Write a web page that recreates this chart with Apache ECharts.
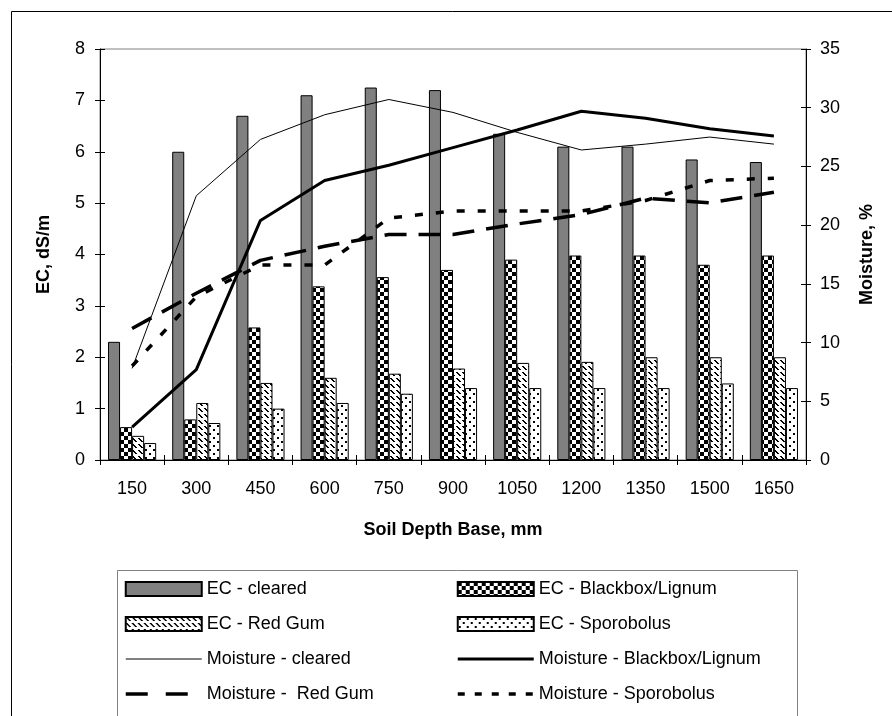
<!DOCTYPE html>
<html>
<head>
<meta charset="utf-8">
<script src="https://cdn.jsdelivr.net/npm/echarts@6/dist/echarts.min.js"></script>
<style>
html,body{margin:0;padding:0;background:#fff;}
#chart{width:892px;height:716px;}
</style>
</head>
<body>
<div id="chart"></div>
<script>
// ---- Data ----
var categories = ['150','300','450','600','750','900','1050','1200','1350','1500','1650'];
var ecCleared    = [2.3, 6.0, 6.7, 7.1, 7.25, 7.2, 6.35, 6.1, 6.1, 5.85, 5.8];
var ecBlackbox   = [0.64, 0.79, 2.58, 3.38, 3.56, 3.7, 3.9, 3.98, 3.98, 3.8, 3.98];
var ecRedGum     = [0.47, 1.11, 1.5, 1.6, 1.68, 1.78, 1.89, 1.91, 2.0, 2.0, 2.0];
var ecSporobolus = [0.33, 0.72, 1.0, 1.11, 1.29, 1.4, 1.4, 1.4, 1.4, 1.49, 1.4];
var moistCleared    = [7.8, 22.5, 27.3, 29.4, 30.7, 29.6, 27.9, 26.4, 26.9, 27.5, 26.9];
var moistBlackbox   = [2.8, 7.7, 20.4, 23.8, 25.1, 26.6, 28.1, 29.7, 29.1, 28.2, 27.6];
var moistRedGum     = [11.2, 14.2, 17.0, 18.2, 19.2, 19.2, 20.1, 20.9, 22.3, 21.9, 22.8];
var moistSporobolus = [8.0, 13.9, 16.6, 16.6, 20.6, 21.2, 21.2, 21.2, 22.1, 23.8, 24.0];
var ecTicks = {min: 0, max: 8, interval: 1};
var moistTicks = {min: 0, max: 35, interval: 5};

// ---- Patterns ----
function makeTile(w, h, draw) {
  var c = document.createElement('canvas');
  c.width = w; c.height = h;
  var ctx = c.getContext('2d');
  ctx.fillStyle = '#fff';
  ctx.fillRect(0, 0, w, h);
  ctx.fillStyle = '#000';
  draw(ctx);
  return {image: c, repeat: 'repeat'};
}
var checkerFill = makeTile(8, 8, function (ctx) {
  ctx.fillRect(0, 0, 4, 4);
  ctx.fillRect(4, 4, 4, 4);
});
var diagFill = makeTile(6, 6, function (ctx) {
  ctx.fillRect(0, 0, 2, 1);
  ctx.fillRect(1, 1, 2, 1);
  ctx.fillRect(2, 2, 2, 1);
  ctx.fillRect(3, 3, 2, 1);
});
var dotFill = makeTile(8, 8, function (ctx) {
  ctx.fillRect(1, 1, 2, 2);
  ctx.fillRect(5, 5, 2, 2);
});

var FONT = '"Liberation Sans", Arial, sans-serif';
var chart = echarts.init(document.getElementById('chart'), null, {renderer: 'canvas'});

var dashRedGum = [22, 12];
var dashSporobolus = [8, 13];

function barSeries(name, data, fill) {
  return {
    name: name, type: 'bar', data: data, xAxisIndex: 0, yAxisIndex: 0,
    barGap: '0%', barCategoryGap: '25%',
    itemStyle: {color: fill, borderColor: '#000', borderWidth: 1},
    emphasis: {disabled: true}, z: 2
  };
}
function lineSeries(name, data, width, dash) {
  return {
    name: name, type: 'line', data: data, xAxisIndex: 0, yAxisIndex: 1,
    symbol: 'none', showSymbol: false,
    lineStyle: {color: '#000', width: width, type: dash, cap: 'butt'},
    itemStyle: {color: '#000'},
    emphasis: {disabled: true}, z: 5
  };
}
var noSym = {color: 'rgba(0,0,0,0)', borderColor: 'rgba(0,0,0,0)', borderWidth: 0, opacity: 0};
function lineLegend(name, width, dash) {
  return {name: name, itemStyle: noSym, lineStyle: {width: width, type: dash, color: '#000', cap: 'butt'}};
}
var legendCommon = {
  orient: 'vertical', top: 579, itemWidth: 76, itemHeight: 14, itemGap: 15, padding: 0,
  selectedMode: false,
  textStyle: {fontSize: 18, color: '#000', fontFamily: FONT, lineHeight: 20}
};

var option = {
  animation: false,
  backgroundColor: '#fff',
  textStyle: {fontFamily: FONT, color: '#000'},
  grid: {left: 100, right: 86, top: 49, bottom: 256, show: true, borderColor: '#808080', borderWidth: 1},
  xAxis: [{
    type: 'category', data: categories, position: 'bottom',
    axisLine: {lineStyle: {color: '#000', width: 1}},
    axisTick: {show: true, inside: true, length: 5, lineStyle: {color: '#000'}},
    axisLabel: {fontSize: 18, color: '#000', margin: 20, fontFamily: FONT},
    splitLine: {show: false},
    name: 'Soil Depth Base, mm', nameLocation: 'middle', nameGap: 61,
    nameTextStyle: {fontSize: 18, fontWeight: 'bold', color: '#000', fontFamily: FONT}
  }, {
    type: 'category', data: categories, position: 'bottom',
    axisLine: {show: false},
    axisTick: {show: true, inside: false, length: 5, lineStyle: {color: '#000'}},
    axisLabel: {show: false}, splitLine: {show: false}
  }],
  yAxis: [{
    type: 'value', position: 'left', min: ecTicks.min, max: ecTicks.max, interval: ecTicks.interval,
    axisLine: {show: true, lineStyle: {color: '#000'}},
    axisTick: {show: true, inside: false, length: 5, lineStyle: {color: '#000'}},
    axisLabel: {fontSize: 18, color: '#000', margin: 15, fontFamily: FONT},
    splitLine: {show: false},
    name: 'EC, dS/m', nameLocation: 'middle', nameGap: 47, nameRotate: 90,
    nameTextStyle: {fontSize: 18, fontWeight: 'bold', color: '#000', fontFamily: FONT}
  }, {
    type: 'value', position: 'right', min: moistTicks.min, max: moistTicks.max, interval: moistTicks.interval,
    axisLine: {show: true, lineStyle: {color: '#000'}},
    axisTick: {show: true, inside: false, length: 5, lineStyle: {color: '#000'}},
    axisLabel: {fontSize: 18, color: '#000', margin: 14, fontFamily: FONT},
    splitLine: {show: false},
    name: 'Moisture, %', nameLocation: 'middle', nameGap: 52, nameRotate: 90,
    nameTextStyle: {fontSize: 18, fontWeight: 'bold', color: '#000', fontFamily: FONT}
  }, {
    type: 'value', position: 'left', min: ecTicks.min, max: ecTicks.max, interval: ecTicks.interval,
    axisLine: {show: false},
    axisTick: {show: true, inside: true, length: 5, lineStyle: {color: '#000'}},
    axisLabel: {show: false}, splitLine: {show: false}
  }, {
    type: 'value', position: 'right', min: moistTicks.min, max: moistTicks.max, interval: moistTicks.interval,
    axisLine: {show: false},
    axisTick: {show: true, inside: true, length: 5, lineStyle: {color: '#000'}},
    axisLabel: {show: false}, splitLine: {show: false}
  }],
  legend: [Object.assign({}, legendCommon, {
    left: 124,
    data: [{name: 'EC - cleared', icon: 'rect'}, {name: 'EC - Red Gum', icon: 'rect'},
           lineLegend('Moisture - cleared', 1, 'solid'), lineLegend('Moisture -  Red Gum', 3.5, [22, 18])]
  }), Object.assign({}, legendCommon, {
    left: 456,
    data: [{name: 'EC - Blackbox/Lignum', icon: 'rect'}, {name: 'EC - Sporobolus', icon: 'rect'},
           lineLegend('Moisture - Blackbox/Lignum', 3, 'solid'), lineLegend('Moisture - Sporobolus', 3.5, [7, 10])]
  })],
  graphic: [{
    type: 'rect', silent: true, z: -1,
    shape: {x: 11.5, y: 11.5, width: 900, height: 720},
    style: {fill: 'none', stroke: '#000', lineWidth: 1}
  }, {
    type: 'rect', silent: true, z: -1,
    shape: {x: 117.5, y: 570.5, width: 680, height: 200},
    style: {fill: 'none', stroke: '#808080', lineWidth: 1}
  }],
  series: [
    barSeries('EC - cleared', ecCleared, '#808080'),
    barSeries('EC - Blackbox/Lignum', ecBlackbox, checkerFill),
    barSeries('EC - Red Gum', ecRedGum, diagFill),
    barSeries('EC - Sporobolus', ecSporobolus, dotFill),
    lineSeries('Moisture - cleared', moistCleared, 1, 'solid'),
    lineSeries('Moisture - Blackbox/Lignum', moistBlackbox, 3, 'solid'),
    lineSeries('Moisture -  Red Gum', moistRedGum, 3.5, dashRedGum),
    lineSeries('Moisture - Sporobolus', moistSporobolus, 3.5, dashSporobolus)
  ]
};
chart.setOption(option);
</script>
</body>
</html>
